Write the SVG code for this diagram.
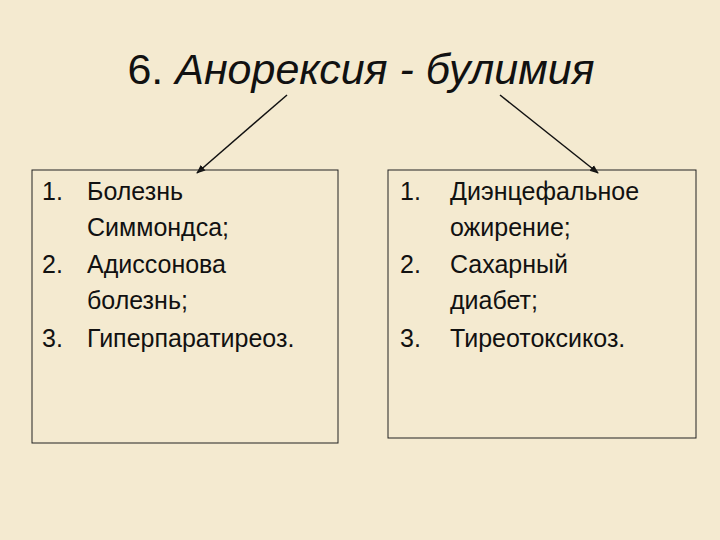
<svg xmlns="http://www.w3.org/2000/svg" width="720" height="540" viewBox="0 0 720 540">
<style>
text{font-family:"Liberation Sans",Arial,sans-serif;fill:#111}
.t{font-size:25px}
.box{fill:none;stroke:#222;stroke-width:1}
.c{stroke:#111;stroke-width:1.5;fill:none}
</style>
<defs><marker id="a" viewBox="0 0 10 10" refX="9" refY="5" markerWidth="6" markerHeight="6" orient="auto"><path d="M0,1 L10,5 L0,9 z" fill="#111"/></marker></defs>
<rect width="720" height="540" fill="#f4ead0"/>
<text x="361" y="84" text-anchor="middle" font-size="43">6. <tspan font-style="italic">Анорексия - булимия</tspan></text>
<g id="connectors">
<line class="c" x1="287" y1="95" x2="197" y2="173" marker-end="url(#a)"/>
<line class="c" x1="500" y1="95" x2="598" y2="173" marker-end="url(#a)"/>
</g>
<g id="left">
<rect class="box" x="32" y="170" width="306" height="273"/>
<text class="t" x="42" y="200">1.</text><text class="t" x="87" y="200">Болезнь</text>
<text class="t" x="87" y="236">Симмондса;</text>
<text class="t" x="42" y="273">2.</text><text class="t" x="87" y="273">Адиссонова</text>
<text class="t" x="87" y="309">болезнь;</text>
<text class="t" x="42" y="347">3.</text><text class="t" x="87" y="347">Гиперпаратиреоз.</text>
</g>
<g id="right">
<rect class="box" x="388" y="170" width="308" height="268"/>
<text class="t" x="400" y="200">1.</text><text class="t" x="450" y="200">Диэнцефальное</text>
<text class="t" x="450" y="236">ожирение;</text>
<text class="t" x="400" y="273">2.</text><text class="t" x="450" y="273">Сахарный</text>
<text class="t" x="450" y="309">диабет;</text>
<text class="t" x="400" y="347">3.</text><text class="t" x="450" y="347">Тиреотоксикоз.</text>
</g>
</svg>
